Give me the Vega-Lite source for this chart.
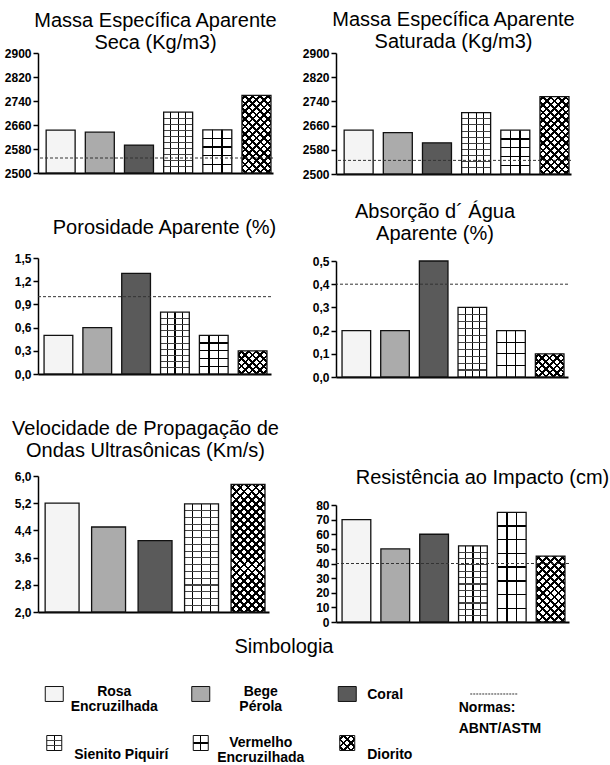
{
"$schema": "https://vega.github.io/schema/vega-lite/v6.json",
"padding": {"left": 4, "top": 10, "right": 0, "bottom": 0},
"config": {
 "view": {"stroke": null},
 "font": "Liberation Sans",
 "title": {"font": "Liberation Sans", "fontSize": 20, "fontWeight": "normal", "color": "#000", "lineHeight": 22, "frame": "group", "anchor": "middle"},
 "axis": {"labelFont": "Liberation Sans", "labelFontSize": 12, "labelFontWeight": "bold", "labelColor": "#000", "domainColor": "#000", "tickColor": "#000", "grid": false},
 "axisY": {"domainWidth": 1.5, "tickWidth": 1.5, "tickSize": 5, "labelPadding": 2},
 "axisX": {"labels": false, "ticks": false, "domainWidth": 2},
 "text": {"font": "Liberation Sans", "fontWeight": "bold", "fontSize": 14, "color": "#000"}
},
"datasets": {
 "seca": [{"rocha":"Rosa Encruzilhada","valor":2643},{"rocha":"Bege Pérola","valor":2636},{"rocha":"Coral","valor":2593},{"rocha":"Sienito Piquirí","valor":2703},{"rocha":"Vermelho Encruzilhada","valor":2644},{"rocha":"Diorito","valor":2759}],
 "saturada": [{"rocha":"Rosa Encruzilhada","valor":2645},{"rocha":"Bege Pérola","valor":2637},{"rocha":"Coral","valor":2603},{"rocha":"Sienito Piquirí","valor":2703},{"rocha":"Vermelho Encruzilhada","valor":2645},{"rocha":"Diorito","valor":2756}],
 "porosidade": [{"rocha":"Rosa Encruzilhada","valor":0.5},{"rocha":"Bege Pérola","valor":0.6},{"rocha":"Coral","valor":1.3},{"rocha":"Sienito Piquirí","valor":0.8},{"rocha":"Vermelho Encruzilhada","valor":0.5},{"rocha":"Diorito","valor":0.3}],
 "absorcao": [{"rocha":"Rosa Encruzilhada","valor":0.2},{"rocha":"Bege Pérola","valor":0.2},{"rocha":"Coral","valor":0.5},{"rocha":"Sienito Piquirí","valor":0.3},{"rocha":"Vermelho Encruzilhada","valor":0.2},{"rocha":"Diorito","valor":0.1}],
 "velocidade": [{"rocha":"Rosa Encruzilhada","valor":5.2},{"rocha":"Bege Pérola","valor":4.5},{"rocha":"Coral","valor":4.1},{"rocha":"Sienito Piquirí","valor":5.18},{"rocha":"Diorito","valor":5.75}],
 "resistencia": [{"rocha":"Rosa Encruzilhada","valor":70},{"rocha":"Bege Pérola","valor":50},{"rocha":"Coral","valor":60},{"rocha":"Sienito Piquirí","valor":52},{"rocha":"Vermelho Encruzilhada","valor":75},{"rocha":"Diorito","valor":45}],
 "legenda": [{"item":"Rosa Encruzilhada","coluna":0,"linha":0},{"item":"Bege Pérola","coluna":1,"linha":0},{"item":"Coral","coluna":2,"linha":0},{"item":"Normas: ABNT/ASTM","coluna":3,"linha":0},{"item":"Sienito Piquirí","coluna":0,"linha":1},{"item":"Vermelho Encruzilhada","coluna":1,"linha":1},{"item":"Diorito","coluna":2,"linha":1}]
},
"vconcat": [
 {"hconcat": [
  {"vconcat": [
   {"vconcat": [
   {"width": 235, "height": 120,
    "title": {"text": ["Massa Específica Aparente", "Seca (Kg/m3)"], "offset": -6},
    "data": {"name": "seca"},
    "layer": [
     {"encoding": {
       "x": {"field": "rocha", "type": "nominal", "sort": null, "scale": {"domain": ["Rosa Encruzilhada","Bege Pérola","Coral","Sienito Piquirí","Vermelho Encruzilhada","Diorito"], "paddingInner": 0.26, "paddingOuter": 0.13, "align": 0.8}, "axis": {"title": null}},
       "y": {"field": "valor", "type": "quantitative", "scale": {"domain": [2500, 2900], "nice": false, "zero": false}, "axis": {"title": null, "values": [2500, 2580, 2660, 2740, 2820, 2900], "format": "d"}},
       "y2": {"datum": 2500}},
      "layer": [
       {"mark": {"type": "bar"}, "encoding": {"fill": {"field": "rocha", "type": "nominal", "legend": null, "scale": {"domain": ["Rosa Encruzilhada","Bege Pérola","Coral","Sienito Piquirí","Vermelho Encruzilhada","Diorito"], "range": ["#f4f4f4","#ababab","#5a5a5a","#ffffff","#ffffff","#ffffff"]}}}},
       {"transform": [{"filter": "datum.rocha === 'Sienito Piquirí'"}], "mark": {"type": "bar", "fill": {"gradient": "linear", "x1": 0, "y1": 0, "x2": 1, "y2": 0, "stops": [{"offset":0.23,"color":"#0000"},{"offset":0.23,"color":"#000"},{"offset":0.27,"color":"#000"},{"offset":0.27,"color":"#0000"},{"offset":0.48,"color":"#0000"},{"offset":0.48,"color":"#000"},{"offset":0.52,"color":"#000"},{"offset":0.52,"color":"#0000"},{"offset":0.73,"color":"#0000"},{"offset":0.73,"color":"#000"},{"offset":0.77,"color":"#000"},{"offset":0.77,"color":"#0000"}]}}},
       {"transform": [{"filter": "datum.rocha === 'Sienito Piquirí'"}], "mark": {"type": "bar", "fill": {"gradient": "linear", "x1": 0, "y1": 0, "x2": 0, "y2": 1, "stops": [{"offset":0.092,"color":"#0000"},{"offset":0.092,"color":"#444"},{"offset":0.108,"color":"#444"},{"offset":0.108,"color":"#0000"},{"offset":0.192,"color":"#0000"},{"offset":0.192,"color":"#444"},{"offset":0.208,"color":"#444"},{"offset":0.208,"color":"#0000"},{"offset":0.292,"color":"#0000"},{"offset":0.292,"color":"#444"},{"offset":0.308,"color":"#444"},{"offset":0.308,"color":"#0000"},{"offset":0.392,"color":"#0000"},{"offset":0.392,"color":"#444"},{"offset":0.408,"color":"#444"},{"offset":0.408,"color":"#0000"},{"offset":0.492,"color":"#0000"},{"offset":0.492,"color":"#444"},{"offset":0.508,"color":"#444"},{"offset":0.508,"color":"#0000"},{"offset":0.592,"color":"#0000"},{"offset":0.592,"color":"#444"},{"offset":0.608,"color":"#444"},{"offset":0.608,"color":"#0000"},{"offset":0.692,"color":"#0000"},{"offset":0.692,"color":"#444"},{"offset":0.708,"color":"#444"},{"offset":0.708,"color":"#0000"},{"offset":0.792,"color":"#0000"},{"offset":0.792,"color":"#444"},{"offset":0.808,"color":"#444"},{"offset":0.808,"color":"#0000"},{"offset":0.892,"color":"#0000"},{"offset":0.892,"color":"#444"},{"offset":0.908,"color":"#444"},{"offset":0.908,"color":"#0000"}]}}},
       {"transform": [{"filter": "datum.rocha === 'Vermelho Encruzilhada'"}], "mark": {"type": "bar", "fill": {"gradient": "linear", "x1": 0, "y1": 0, "x2": 1, "y2": 0, "stops": [{"offset":0.309,"color":"#0000"},{"offset":0.309,"color":"#000"},{"offset":0.357,"color":"#000"},{"offset":0.357,"color":"#0000"},{"offset":0.643,"color":"#0000"},{"offset":0.643,"color":"#000"},{"offset":0.691,"color":"#000"},{"offset":0.691,"color":"#0000"}]}}},
       {"transform": [{"filter": "datum.rocha === 'Vermelho Encruzilhada'"}], "mark": {"type": "bar", "fill": {"gradient": "linear", "x1": 0, "y1": 0, "x2": 0, "y2": 1, "stops": [{"offset":0.184,"color":"#0000"},{"offset":0.184,"color":"#000"},{"offset":0.216,"color":"#000"},{"offset":0.216,"color":"#0000"},{"offset":0.384,"color":"#0000"},{"offset":0.384,"color":"#000"},{"offset":0.416,"color":"#000"},{"offset":0.416,"color":"#0000"},{"offset":0.584,"color":"#0000"},{"offset":0.584,"color":"#000"},{"offset":0.616,"color":"#000"},{"offset":0.616,"color":"#0000"},{"offset":0.784,"color":"#0000"},{"offset":0.784,"color":"#000"},{"offset":0.816,"color":"#000"},{"offset":0.816,"color":"#0000"}]}}},
       {"transform": [{"filter": "datum.rocha === 'Diorito'"}], "mark": {"type": "bar", "fill": {"gradient": "linear", "x1": 0, "y1": 0, "x2": 0.45, "y2": 1.205, "stops": [{"offset":0.023,"color":"#0000"},{"offset":0.023,"color":"#000"},{"offset":0.048,"color":"#000"},{"offset":0.048,"color":"#0000"},{"offset":0.095,"color":"#0000"},{"offset":0.095,"color":"#000"},{"offset":0.12,"color":"#000"},{"offset":0.12,"color":"#0000"},{"offset":0.166,"color":"#0000"},{"offset":0.166,"color":"#000"},{"offset":0.191,"color":"#000"},{"offset":0.191,"color":"#0000"},{"offset":0.238,"color":"#0000"},{"offset":0.238,"color":"#000"},{"offset":0.263,"color":"#000"},{"offset":0.263,"color":"#0000"},{"offset":0.309,"color":"#0000"},{"offset":0.309,"color":"#000"},{"offset":0.334,"color":"#000"},{"offset":0.334,"color":"#0000"},{"offset":0.38,"color":"#0000"},{"offset":0.38,"color":"#000"},{"offset":0.405,"color":"#000"},{"offset":0.405,"color":"#0000"},{"offset":0.452,"color":"#0000"},{"offset":0.452,"color":"#000"},{"offset":0.477,"color":"#000"},{"offset":0.477,"color":"#0000"},{"offset":0.523,"color":"#0000"},{"offset":0.523,"color":"#000"},{"offset":0.548,"color":"#000"},{"offset":0.548,"color":"#0000"},{"offset":0.595,"color":"#0000"},{"offset":0.595,"color":"#000"},{"offset":0.62,"color":"#000"},{"offset":0.62,"color":"#0000"},{"offset":0.666,"color":"#0000"},{"offset":0.666,"color":"#000"},{"offset":0.691,"color":"#000"},{"offset":0.691,"color":"#0000"},{"offset":0.738,"color":"#0000"},{"offset":0.738,"color":"#000"},{"offset":0.763,"color":"#000"},{"offset":0.763,"color":"#0000"},{"offset":0.809,"color":"#0000"},{"offset":0.809,"color":"#000"},{"offset":0.834,"color":"#000"},{"offset":0.834,"color":"#0000"},{"offset":0.88,"color":"#0000"},{"offset":0.88,"color":"#000"},{"offset":0.905,"color":"#000"},{"offset":0.905,"color":"#0000"},{"offset":0.952,"color":"#0000"},{"offset":0.952,"color":"#000"},{"offset":0.977,"color":"#000"},{"offset":0.977,"color":"#0000"}]}}},
       {"transform": [{"filter": "datum.rocha === 'Diorito'"}], "mark": {"type": "bar", "fill": {"gradient": "linear", "x1": 0, "y1": 1, "x2": 0.45, "y2": -0.205, "stops": [{"offset":0.023,"color":"#0000"},{"offset":0.023,"color":"#000"},{"offset":0.048,"color":"#000"},{"offset":0.048,"color":"#0000"},{"offset":0.095,"color":"#0000"},{"offset":0.095,"color":"#000"},{"offset":0.12,"color":"#000"},{"offset":0.12,"color":"#0000"},{"offset":0.166,"color":"#0000"},{"offset":0.166,"color":"#000"},{"offset":0.191,"color":"#000"},{"offset":0.191,"color":"#0000"},{"offset":0.238,"color":"#0000"},{"offset":0.238,"color":"#000"},{"offset":0.263,"color":"#000"},{"offset":0.263,"color":"#0000"},{"offset":0.309,"color":"#0000"},{"offset":0.309,"color":"#000"},{"offset":0.334,"color":"#000"},{"offset":0.334,"color":"#0000"},{"offset":0.38,"color":"#0000"},{"offset":0.38,"color":"#000"},{"offset":0.405,"color":"#000"},{"offset":0.405,"color":"#0000"},{"offset":0.452,"color":"#0000"},{"offset":0.452,"color":"#000"},{"offset":0.477,"color":"#000"},{"offset":0.477,"color":"#0000"},{"offset":0.523,"color":"#0000"},{"offset":0.523,"color":"#000"},{"offset":0.548,"color":"#000"},{"offset":0.548,"color":"#0000"},{"offset":0.595,"color":"#0000"},{"offset":0.595,"color":"#000"},{"offset":0.62,"color":"#000"},{"offset":0.62,"color":"#0000"},{"offset":0.666,"color":"#0000"},{"offset":0.666,"color":"#000"},{"offset":0.691,"color":"#000"},{"offset":0.691,"color":"#0000"},{"offset":0.738,"color":"#0000"},{"offset":0.738,"color":"#000"},{"offset":0.763,"color":"#000"},{"offset":0.763,"color":"#0000"},{"offset":0.809,"color":"#0000"},{"offset":0.809,"color":"#000"},{"offset":0.834,"color":"#000"},{"offset":0.834,"color":"#0000"},{"offset":0.88,"color":"#0000"},{"offset":0.88,"color":"#000"},{"offset":0.905,"color":"#000"},{"offset":0.905,"color":"#0000"},{"offset":0.952,"color":"#0000"},{"offset":0.952,"color":"#000"},{"offset":0.977,"color":"#000"},{"offset":0.977,"color":"#0000"}]}}},
       {"mark": {"type": "bar", "fill": "transparent", "stroke": "#111", "strokeWidth": 1.3}}
      ]},
     {"data": {"values": [{"norma": 2550}]}, "mark": {"type": "rule", "stroke": "#333", "strokeDash": [3, 2], "strokeWidth": 1}, "encoding": {"y": {"field": "norma", "type": "quantitative", "scale": {"domain": [2500, 2900], "nice": false, "zero": false}, "axis": {"title": null, "values": [2500, 2580, 2660, 2740, 2820, 2900], "format": "d"}}}}
    ]},
   {"width": 233, "height": 116,
    "title": {"text": "Porosidade Aparente (%)", "offset": 14, "dx": 10},
    "data": {"name": "porosidade"},
    "layer": [
     {"encoding": {
       "x": {"field": "rocha", "type": "nominal", "sort": null, "scale": {"domain": ["Rosa Encruzilhada","Bege Pérola","Coral","Sienito Piquirí","Vermelho Encruzilhada","Diorito"], "paddingInner": 0.26, "paddingOuter": 0.13, "align": 0.6}, "axis": {"title": null}},
       "y": {"field": "valor", "type": "quantitative", "scale": {"domain": [0, 1.5], "nice": false}, "axis": {"title": null, "values": [0, 0.3, 0.6, 0.9, 1.2, 1.5], "labelExpr": "replace(format(datum.value, '.1f'), '.', ',')"}},
       "y2": {"datum": 0}},
      "layer": [
       {"mark": {"type": "bar"}, "encoding": {"fill": {"field": "rocha", "type": "nominal", "legend": null, "scale": {"domain": ["Rosa Encruzilhada","Bege Pérola","Coral","Sienito Piquirí","Vermelho Encruzilhada","Diorito"], "range": ["#f4f4f4","#ababab","#5a5a5a","#ffffff","#ffffff","#ffffff"]}}}},
       {"transform": [{"filter": "datum.rocha === 'Sienito Piquirí'"}], "mark": {"type": "bar", "fill": {"gradient": "linear", "x1": 0, "y1": 0, "x2": 1, "y2": 0, "stops": [{"offset":0.23,"color":"#0000"},{"offset":0.23,"color":"#000"},{"offset":0.27,"color":"#000"},{"offset":0.27,"color":"#0000"},{"offset":0.48,"color":"#0000"},{"offset":0.48,"color":"#000"},{"offset":0.52,"color":"#000"},{"offset":0.52,"color":"#0000"},{"offset":0.73,"color":"#0000"},{"offset":0.73,"color":"#000"},{"offset":0.77,"color":"#000"},{"offset":0.77,"color":"#0000"}]}}},
       {"transform": [{"filter": "datum.rocha === 'Sienito Piquirí'"}], "mark": {"type": "bar", "fill": {"gradient": "linear", "x1": 0, "y1": 0, "x2": 0, "y2": 1, "stops": [{"offset":0.092,"color":"#0000"},{"offset":0.092,"color":"#444"},{"offset":0.108,"color":"#444"},{"offset":0.108,"color":"#0000"},{"offset":0.192,"color":"#0000"},{"offset":0.192,"color":"#444"},{"offset":0.208,"color":"#444"},{"offset":0.208,"color":"#0000"},{"offset":0.292,"color":"#0000"},{"offset":0.292,"color":"#444"},{"offset":0.308,"color":"#444"},{"offset":0.308,"color":"#0000"},{"offset":0.392,"color":"#0000"},{"offset":0.392,"color":"#444"},{"offset":0.408,"color":"#444"},{"offset":0.408,"color":"#0000"},{"offset":0.492,"color":"#0000"},{"offset":0.492,"color":"#444"},{"offset":0.508,"color":"#444"},{"offset":0.508,"color":"#0000"},{"offset":0.592,"color":"#0000"},{"offset":0.592,"color":"#444"},{"offset":0.608,"color":"#444"},{"offset":0.608,"color":"#0000"},{"offset":0.692,"color":"#0000"},{"offset":0.692,"color":"#444"},{"offset":0.708,"color":"#444"},{"offset":0.708,"color":"#0000"},{"offset":0.792,"color":"#0000"},{"offset":0.792,"color":"#444"},{"offset":0.808,"color":"#444"},{"offset":0.808,"color":"#0000"},{"offset":0.892,"color":"#0000"},{"offset":0.892,"color":"#444"},{"offset":0.908,"color":"#444"},{"offset":0.908,"color":"#0000"}]}}},
       {"transform": [{"filter": "datum.rocha === 'Vermelho Encruzilhada'"}], "mark": {"type": "bar", "fill": {"gradient": "linear", "x1": 0, "y1": 0, "x2": 1, "y2": 0, "stops": [{"offset":0.309,"color":"#0000"},{"offset":0.309,"color":"#000"},{"offset":0.357,"color":"#000"},{"offset":0.357,"color":"#0000"},{"offset":0.643,"color":"#0000"},{"offset":0.643,"color":"#000"},{"offset":0.691,"color":"#000"},{"offset":0.691,"color":"#0000"}]}}},
       {"transform": [{"filter": "datum.rocha === 'Vermelho Encruzilhada'"}], "mark": {"type": "bar", "fill": {"gradient": "linear", "x1": 0, "y1": 0, "x2": 0, "y2": 1, "stops": [{"offset":0.182,"color":"#0000"},{"offset":0.182,"color":"#000"},{"offset":0.218,"color":"#000"},{"offset":0.218,"color":"#0000"},{"offset":0.382,"color":"#0000"},{"offset":0.382,"color":"#000"},{"offset":0.418,"color":"#000"},{"offset":0.418,"color":"#0000"},{"offset":0.582,"color":"#0000"},{"offset":0.582,"color":"#000"},{"offset":0.618,"color":"#000"},{"offset":0.618,"color":"#0000"},{"offset":0.782,"color":"#0000"},{"offset":0.782,"color":"#000"},{"offset":0.818,"color":"#000"},{"offset":0.818,"color":"#0000"}]}}},
       {"transform": [{"filter": "datum.rocha === 'Diorito'"}], "mark": {"type": "bar", "fill": {"gradient": "linear", "x1": 0, "y1": 0, "x2": 1.093, "y2": 0.885, "stops": [{"offset":0.046,"color":"#0000"},{"offset":0.046,"color":"#000"},{"offset":0.096,"color":"#000"},{"offset":0.096,"color":"#0000"},{"offset":0.189,"color":"#0000"},{"offset":0.189,"color":"#000"},{"offset":0.239,"color":"#000"},{"offset":0.239,"color":"#0000"},{"offset":0.332,"color":"#0000"},{"offset":0.332,"color":"#000"},{"offset":0.382,"color":"#000"},{"offset":0.382,"color":"#0000"},{"offset":0.475,"color":"#0000"},{"offset":0.475,"color":"#000"},{"offset":0.525,"color":"#000"},{"offset":0.525,"color":"#0000"},{"offset":0.618,"color":"#0000"},{"offset":0.618,"color":"#000"},{"offset":0.668,"color":"#000"},{"offset":0.668,"color":"#0000"},{"offset":0.761,"color":"#0000"},{"offset":0.761,"color":"#000"},{"offset":0.811,"color":"#000"},{"offset":0.811,"color":"#0000"},{"offset":0.904,"color":"#0000"},{"offset":0.904,"color":"#000"},{"offset":0.954,"color":"#000"},{"offset":0.954,"color":"#0000"}]}}},
       {"transform": [{"filter": "datum.rocha === 'Diorito'"}], "mark": {"type": "bar", "fill": {"gradient": "linear", "x1": 0, "y1": 1, "x2": 1.093, "y2": 0.115, "stops": [{"offset":0.046,"color":"#0000"},{"offset":0.046,"color":"#000"},{"offset":0.096,"color":"#000"},{"offset":0.096,"color":"#0000"},{"offset":0.189,"color":"#0000"},{"offset":0.189,"color":"#000"},{"offset":0.239,"color":"#000"},{"offset":0.239,"color":"#0000"},{"offset":0.332,"color":"#0000"},{"offset":0.332,"color":"#000"},{"offset":0.382,"color":"#000"},{"offset":0.382,"color":"#0000"},{"offset":0.475,"color":"#0000"},{"offset":0.475,"color":"#000"},{"offset":0.525,"color":"#000"},{"offset":0.525,"color":"#0000"},{"offset":0.618,"color":"#0000"},{"offset":0.618,"color":"#000"},{"offset":0.668,"color":"#000"},{"offset":0.668,"color":"#0000"},{"offset":0.761,"color":"#0000"},{"offset":0.761,"color":"#000"},{"offset":0.811,"color":"#000"},{"offset":0.811,"color":"#0000"},{"offset":0.904,"color":"#0000"},{"offset":0.904,"color":"#000"},{"offset":0.954,"color":"#000"},{"offset":0.954,"color":"#0000"}]}}},
       {"mark": {"type": "bar", "fill": "transparent", "stroke": "#111", "strokeWidth": 1.3}}
      ]},
     {"data": {"values": [{"norma": 1.0}]}, "mark": {"type": "rule", "stroke": "#333", "strokeDash": [3, 2], "strokeWidth": 1}, "encoding": {"y": {"field": "norma", "type": "quantitative", "scale": {"domain": [0, 1.5], "nice": false}, "axis": {"title": null, "values": [0, 0.3, 0.6, 0.9, 1.2, 1.5], "labelExpr": "replace(format(datum.value, '.1f'), '.', ',')"}}}}
    ]}
   ], "spacing": 39},
   {"width": 231, "height": 136,
    "title": {"text": ["Velocidade de Propagação de", "Ondas Ultrasônicas (Km/s)"], "offset": 9, "dx": -8},
    "data": {"name": "velocidade"},
    "layer": [
     {"encoding": {
       "x": {"field": "rocha", "type": "nominal", "sort": null, "scale": {"domain": ["Rosa Encruzilhada","Bege Pérola","Coral","Sienito Piquirí","Diorito"], "paddingInner": 0.27, "paddingOuter": 0.12, "align": 0.64}, "axis": {"title": null}},
       "y": {"field": "valor", "type": "quantitative", "scale": {"domain": [2, 6], "nice": false, "zero": false}, "axis": {"title": null, "values": [2, 2.8, 3.6, 4.4, 5.2, 6], "labelExpr": "replace(format(datum.value, '.1f'), '.', ',')"}},
       "y2": {"datum": 2}},
      "layer": [
       {"mark": {"type": "bar"}, "encoding": {"fill": {"field": "rocha", "type": "nominal", "legend": null, "scale": {"domain": ["Rosa Encruzilhada","Bege Pérola","Coral","Sienito Piquirí","Vermelho Encruzilhada","Diorito"], "range": ["#f4f4f4","#ababab","#5a5a5a","#ffffff","#ffffff","#ffffff"]}}}},
       {"transform": [{"filter": "datum.rocha === 'Sienito Piquirí'"}], "mark": {"type": "bar", "fill": {"gradient": "linear", "x1": 0, "y1": 0, "x2": 1, "y2": 0, "stops": [{"offset":0.23,"color":"#0000"},{"offset":0.23,"color":"#000"},{"offset":0.26,"color":"#000"},{"offset":0.26,"color":"#0000"},{"offset":0.485,"color":"#0000"},{"offset":0.485,"color":"#000"},{"offset":0.515,"color":"#000"},{"offset":0.515,"color":"#0000"},{"offset":0.74,"color":"#0000"},{"offset":0.74,"color":"#000"},{"offset":0.77,"color":"#000"},{"offset":0.77,"color":"#0000"}]}}},
       {"transform": [{"filter": "datum.rocha === 'Sienito Piquirí'"}], "mark": {"type": "bar", "fill": {"gradient": "linear", "x1": 0, "y1": 0, "x2": 0, "y2": 1, "stops": [{"offset":0.058,"color":"#0000"},{"offset":0.058,"color":"#444"},{"offset":0.067,"color":"#444"},{"offset":0.067,"color":"#0000"},{"offset":0.12,"color":"#0000"},{"offset":0.12,"color":"#444"},{"offset":0.13,"color":"#444"},{"offset":0.13,"color":"#0000"},{"offset":0.183,"color":"#0000"},{"offset":0.183,"color":"#444"},{"offset":0.192,"color":"#444"},{"offset":0.192,"color":"#0000"},{"offset":0.245,"color":"#0000"},{"offset":0.245,"color":"#444"},{"offset":0.255,"color":"#444"},{"offset":0.255,"color":"#0000"},{"offset":0.308,"color":"#0000"},{"offset":0.308,"color":"#444"},{"offset":0.317,"color":"#444"},{"offset":0.317,"color":"#0000"},{"offset":0.37,"color":"#0000"},{"offset":0.37,"color":"#444"},{"offset":0.38,"color":"#444"},{"offset":0.38,"color":"#0000"},{"offset":0.433,"color":"#0000"},{"offset":0.433,"color":"#444"},{"offset":0.442,"color":"#444"},{"offset":0.442,"color":"#0000"},{"offset":0.495,"color":"#0000"},{"offset":0.495,"color":"#444"},{"offset":0.505,"color":"#444"},{"offset":0.505,"color":"#0000"},{"offset":0.558,"color":"#0000"},{"offset":0.558,"color":"#444"},{"offset":0.567,"color":"#444"},{"offset":0.567,"color":"#0000"},{"offset":0.62,"color":"#0000"},{"offset":0.62,"color":"#444"},{"offset":0.63,"color":"#444"},{"offset":0.63,"color":"#0000"},{"offset":0.683,"color":"#0000"},{"offset":0.683,"color":"#444"},{"offset":0.692,"color":"#444"},{"offset":0.692,"color":"#0000"},{"offset":0.745,"color":"#0000"},{"offset":0.745,"color":"#444"},{"offset":0.755,"color":"#444"},{"offset":0.755,"color":"#0000"},{"offset":0.808,"color":"#0000"},{"offset":0.808,"color":"#444"},{"offset":0.817,"color":"#444"},{"offset":0.817,"color":"#0000"},{"offset":0.87,"color":"#0000"},{"offset":0.87,"color":"#444"},{"offset":0.88,"color":"#444"},{"offset":0.88,"color":"#0000"},{"offset":0.933,"color":"#0000"},{"offset":0.933,"color":"#444"},{"offset":0.942,"color":"#444"},{"offset":0.942,"color":"#0000"}]}}},
       {"transform": [{"filter": "datum.rocha === 'Diorito'"}], "mark": {"type": "bar", "fill": {"gradient": "linear", "x1": 0, "y1": 0, "x2": 0.321, "y2": 1.184, "stops": [{"offset":0.016,"color":"#0000"},{"offset":0.016,"color":"#000"},{"offset":0.034,"color":"#000"},{"offset":0.034,"color":"#0000"},{"offset":0.066,"color":"#0000"},{"offset":0.066,"color":"#000"},{"offset":0.084,"color":"#000"},{"offset":0.084,"color":"#0000"},{"offset":0.116,"color":"#0000"},{"offset":0.116,"color":"#000"},{"offset":0.134,"color":"#000"},{"offset":0.134,"color":"#0000"},{"offset":0.166,"color":"#0000"},{"offset":0.166,"color":"#000"},{"offset":0.184,"color":"#000"},{"offset":0.184,"color":"#0000"},{"offset":0.216,"color":"#0000"},{"offset":0.216,"color":"#000"},{"offset":0.234,"color":"#000"},{"offset":0.234,"color":"#0000"},{"offset":0.266,"color":"#0000"},{"offset":0.266,"color":"#000"},{"offset":0.284,"color":"#000"},{"offset":0.284,"color":"#0000"},{"offset":0.316,"color":"#0000"},{"offset":0.316,"color":"#000"},{"offset":0.334,"color":"#000"},{"offset":0.334,"color":"#0000"},{"offset":0.366,"color":"#0000"},{"offset":0.366,"color":"#000"},{"offset":0.384,"color":"#000"},{"offset":0.384,"color":"#0000"},{"offset":0.416,"color":"#0000"},{"offset":0.416,"color":"#000"},{"offset":0.434,"color":"#000"},{"offset":0.434,"color":"#0000"},{"offset":0.466,"color":"#0000"},{"offset":0.466,"color":"#000"},{"offset":0.484,"color":"#000"},{"offset":0.484,"color":"#0000"},{"offset":0.516,"color":"#0000"},{"offset":0.516,"color":"#000"},{"offset":0.534,"color":"#000"},{"offset":0.534,"color":"#0000"},{"offset":0.566,"color":"#0000"},{"offset":0.566,"color":"#000"},{"offset":0.584,"color":"#000"},{"offset":0.584,"color":"#0000"},{"offset":0.616,"color":"#0000"},{"offset":0.616,"color":"#000"},{"offset":0.634,"color":"#000"},{"offset":0.634,"color":"#0000"},{"offset":0.666,"color":"#0000"},{"offset":0.666,"color":"#000"},{"offset":0.684,"color":"#000"},{"offset":0.684,"color":"#0000"},{"offset":0.716,"color":"#0000"},{"offset":0.716,"color":"#000"},{"offset":0.734,"color":"#000"},{"offset":0.734,"color":"#0000"},{"offset":0.766,"color":"#0000"},{"offset":0.766,"color":"#000"},{"offset":0.784,"color":"#000"},{"offset":0.784,"color":"#0000"},{"offset":0.816,"color":"#0000"},{"offset":0.816,"color":"#000"},{"offset":0.834,"color":"#000"},{"offset":0.834,"color":"#0000"},{"offset":0.866,"color":"#0000"},{"offset":0.866,"color":"#000"},{"offset":0.884,"color":"#000"},{"offset":0.884,"color":"#0000"},{"offset":0.916,"color":"#0000"},{"offset":0.916,"color":"#000"},{"offset":0.934,"color":"#000"},{"offset":0.934,"color":"#0000"},{"offset":0.966,"color":"#0000"},{"offset":0.966,"color":"#000"},{"offset":0.984,"color":"#000"},{"offset":0.984,"color":"#0000"}]}}},
       {"transform": [{"filter": "datum.rocha === 'Diorito'"}], "mark": {"type": "bar", "fill": {"gradient": "linear", "x1": 0, "y1": 1, "x2": 0.321, "y2": -0.184, "stops": [{"offset":0.016,"color":"#0000"},{"offset":0.016,"color":"#000"},{"offset":0.034,"color":"#000"},{"offset":0.034,"color":"#0000"},{"offset":0.066,"color":"#0000"},{"offset":0.066,"color":"#000"},{"offset":0.084,"color":"#000"},{"offset":0.084,"color":"#0000"},{"offset":0.116,"color":"#0000"},{"offset":0.116,"color":"#000"},{"offset":0.134,"color":"#000"},{"offset":0.134,"color":"#0000"},{"offset":0.166,"color":"#0000"},{"offset":0.166,"color":"#000"},{"offset":0.184,"color":"#000"},{"offset":0.184,"color":"#0000"},{"offset":0.216,"color":"#0000"},{"offset":0.216,"color":"#000"},{"offset":0.234,"color":"#000"},{"offset":0.234,"color":"#0000"},{"offset":0.266,"color":"#0000"},{"offset":0.266,"color":"#000"},{"offset":0.284,"color":"#000"},{"offset":0.284,"color":"#0000"},{"offset":0.316,"color":"#0000"},{"offset":0.316,"color":"#000"},{"offset":0.334,"color":"#000"},{"offset":0.334,"color":"#0000"},{"offset":0.366,"color":"#0000"},{"offset":0.366,"color":"#000"},{"offset":0.384,"color":"#000"},{"offset":0.384,"color":"#0000"},{"offset":0.416,"color":"#0000"},{"offset":0.416,"color":"#000"},{"offset":0.434,"color":"#000"},{"offset":0.434,"color":"#0000"},{"offset":0.466,"color":"#0000"},{"offset":0.466,"color":"#000"},{"offset":0.484,"color":"#000"},{"offset":0.484,"color":"#0000"},{"offset":0.516,"color":"#0000"},{"offset":0.516,"color":"#000"},{"offset":0.534,"color":"#000"},{"offset":0.534,"color":"#0000"},{"offset":0.566,"color":"#0000"},{"offset":0.566,"color":"#000"},{"offset":0.584,"color":"#000"},{"offset":0.584,"color":"#0000"},{"offset":0.616,"color":"#0000"},{"offset":0.616,"color":"#000"},{"offset":0.634,"color":"#000"},{"offset":0.634,"color":"#0000"},{"offset":0.666,"color":"#0000"},{"offset":0.666,"color":"#000"},{"offset":0.684,"color":"#000"},{"offset":0.684,"color":"#0000"},{"offset":0.716,"color":"#0000"},{"offset":0.716,"color":"#000"},{"offset":0.734,"color":"#000"},{"offset":0.734,"color":"#0000"},{"offset":0.766,"color":"#0000"},{"offset":0.766,"color":"#000"},{"offset":0.784,"color":"#000"},{"offset":0.784,"color":"#0000"},{"offset":0.816,"color":"#0000"},{"offset":0.816,"color":"#000"},{"offset":0.834,"color":"#000"},{"offset":0.834,"color":"#0000"},{"offset":0.866,"color":"#0000"},{"offset":0.866,"color":"#000"},{"offset":0.884,"color":"#000"},{"offset":0.884,"color":"#0000"},{"offset":0.916,"color":"#0000"},{"offset":0.916,"color":"#000"},{"offset":0.934,"color":"#000"},{"offset":0.934,"color":"#0000"},{"offset":0.966,"color":"#0000"},{"offset":0.966,"color":"#000"},{"offset":0.984,"color":"#000"},{"offset":0.984,"color":"#0000"}]}}},
       {"mark": {"type": "bar", "fill": "transparent", "stroke": "#111", "strokeWidth": 1.3}}
      ]}
    ]}
  ], "spacing": 39},
  {"vconcat": [
   {"vconcat": [
    {"width": 235, "height": 121,
     "title": {"text": ["Massa Específica Aparente", "Saturada (Kg/m3)"], "offset": -5},
     "data": {"name": "saturada"},
     "layer": [
      {"encoding": {
        "x": {"field": "rocha", "type": "nominal", "sort": null, "scale": {"domain": ["Rosa Encruzilhada","Bege Pérola","Coral","Sienito Piquirí","Vermelho Encruzilhada","Diorito"], "paddingInner": 0.26, "paddingOuter": 0.13, "align": 0.8}, "axis": {"title": null}},
        "y": {"field": "valor", "type": "quantitative", "scale": {"domain": [2500, 2900], "nice": false, "zero": false}, "axis": {"title": null, "values": [2500, 2580, 2660, 2740, 2820, 2900], "format": "d"}},
        "y2": {"datum": 2500}},
       "layer": [
        {"mark": {"type": "bar"}, "encoding": {"fill": {"field": "rocha", "type": "nominal", "legend": null, "scale": {"domain": ["Rosa Encruzilhada","Bege Pérola","Coral","Sienito Piquirí","Vermelho Encruzilhada","Diorito"], "range": ["#f4f4f4","#ababab","#5a5a5a","#ffffff","#ffffff","#ffffff"]}}}},
        {"transform": [{"filter": "datum.rocha === 'Sienito Piquirí'"}], "mark": {"type": "bar", "fill": {"gradient": "linear", "x1": 0, "y1": 0, "x2": 1, "y2": 0, "stops": [{"offset":0.23,"color":"#0000"},{"offset":0.23,"color":"#000"},{"offset":0.27,"color":"#000"},{"offset":0.27,"color":"#0000"},{"offset":0.48,"color":"#0000"},{"offset":0.48,"color":"#000"},{"offset":0.52,"color":"#000"},{"offset":0.52,"color":"#0000"},{"offset":0.73,"color":"#0000"},{"offset":0.73,"color":"#000"},{"offset":0.77,"color":"#000"},{"offset":0.77,"color":"#0000"}]}}},
        {"transform": [{"filter": "datum.rocha === 'Sienito Piquirí'"}], "mark": {"type": "bar", "fill": {"gradient": "linear", "x1": 0, "y1": 0, "x2": 0, "y2": 1, "stops": [{"offset":0.092,"color":"#0000"},{"offset":0.092,"color":"#444"},{"offset":0.108,"color":"#444"},{"offset":0.108,"color":"#0000"},{"offset":0.192,"color":"#0000"},{"offset":0.192,"color":"#444"},{"offset":0.208,"color":"#444"},{"offset":0.208,"color":"#0000"},{"offset":0.292,"color":"#0000"},{"offset":0.292,"color":"#444"},{"offset":0.308,"color":"#444"},{"offset":0.308,"color":"#0000"},{"offset":0.392,"color":"#0000"},{"offset":0.392,"color":"#444"},{"offset":0.408,"color":"#444"},{"offset":0.408,"color":"#0000"},{"offset":0.492,"color":"#0000"},{"offset":0.492,"color":"#444"},{"offset":0.508,"color":"#444"},{"offset":0.508,"color":"#0000"},{"offset":0.592,"color":"#0000"},{"offset":0.592,"color":"#444"},{"offset":0.608,"color":"#444"},{"offset":0.608,"color":"#0000"},{"offset":0.692,"color":"#0000"},{"offset":0.692,"color":"#444"},{"offset":0.708,"color":"#444"},{"offset":0.708,"color":"#0000"},{"offset":0.792,"color":"#0000"},{"offset":0.792,"color":"#444"},{"offset":0.808,"color":"#444"},{"offset":0.808,"color":"#0000"},{"offset":0.892,"color":"#0000"},{"offset":0.892,"color":"#444"},{"offset":0.908,"color":"#444"},{"offset":0.908,"color":"#0000"}]}}},
        {"transform": [{"filter": "datum.rocha === 'Vermelho Encruzilhada'"}], "mark": {"type": "bar", "fill": {"gradient": "linear", "x1": 0, "y1": 0, "x2": 1, "y2": 0, "stops": [{"offset":0.309,"color":"#0000"},{"offset":0.309,"color":"#000"},{"offset":0.357,"color":"#000"},{"offset":0.357,"color":"#0000"},{"offset":0.643,"color":"#0000"},{"offset":0.643,"color":"#000"},{"offset":0.691,"color":"#000"},{"offset":0.691,"color":"#0000"}]}}},
        {"transform": [{"filter": "datum.rocha === 'Vermelho Encruzilhada'"}], "mark": {"type": "bar", "fill": {"gradient": "linear", "x1": 0, "y1": 0, "x2": 0, "y2": 1, "stops": [{"offset":0.184,"color":"#0000"},{"offset":0.184,"color":"#000"},{"offset":0.216,"color":"#000"},{"offset":0.216,"color":"#0000"},{"offset":0.384,"color":"#0000"},{"offset":0.384,"color":"#000"},{"offset":0.416,"color":"#000"},{"offset":0.416,"color":"#0000"},{"offset":0.584,"color":"#0000"},{"offset":0.584,"color":"#000"},{"offset":0.616,"color":"#000"},{"offset":0.616,"color":"#0000"},{"offset":0.784,"color":"#0000"},{"offset":0.784,"color":"#000"},{"offset":0.816,"color":"#000"},{"offset":0.816,"color":"#0000"}]}}},
        {"transform": [{"filter": "datum.rocha === 'Diorito'"}], "mark": {"type": "bar", "fill": {"gradient": "linear", "x1": 0, "y1": 0, "x2": 0.45, "y2": 1.205, "stops": [{"offset":0.023,"color":"#0000"},{"offset":0.023,"color":"#000"},{"offset":0.048,"color":"#000"},{"offset":0.048,"color":"#0000"},{"offset":0.095,"color":"#0000"},{"offset":0.095,"color":"#000"},{"offset":0.12,"color":"#000"},{"offset":0.12,"color":"#0000"},{"offset":0.166,"color":"#0000"},{"offset":0.166,"color":"#000"},{"offset":0.191,"color":"#000"},{"offset":0.191,"color":"#0000"},{"offset":0.238,"color":"#0000"},{"offset":0.238,"color":"#000"},{"offset":0.263,"color":"#000"},{"offset":0.263,"color":"#0000"},{"offset":0.309,"color":"#0000"},{"offset":0.309,"color":"#000"},{"offset":0.334,"color":"#000"},{"offset":0.334,"color":"#0000"},{"offset":0.38,"color":"#0000"},{"offset":0.38,"color":"#000"},{"offset":0.405,"color":"#000"},{"offset":0.405,"color":"#0000"},{"offset":0.452,"color":"#0000"},{"offset":0.452,"color":"#000"},{"offset":0.477,"color":"#000"},{"offset":0.477,"color":"#0000"},{"offset":0.523,"color":"#0000"},{"offset":0.523,"color":"#000"},{"offset":0.548,"color":"#000"},{"offset":0.548,"color":"#0000"},{"offset":0.595,"color":"#0000"},{"offset":0.595,"color":"#000"},{"offset":0.62,"color":"#000"},{"offset":0.62,"color":"#0000"},{"offset":0.666,"color":"#0000"},{"offset":0.666,"color":"#000"},{"offset":0.691,"color":"#000"},{"offset":0.691,"color":"#0000"},{"offset":0.738,"color":"#0000"},{"offset":0.738,"color":"#000"},{"offset":0.763,"color":"#000"},{"offset":0.763,"color":"#0000"},{"offset":0.809,"color":"#0000"},{"offset":0.809,"color":"#000"},{"offset":0.834,"color":"#000"},{"offset":0.834,"color":"#0000"},{"offset":0.88,"color":"#0000"},{"offset":0.88,"color":"#000"},{"offset":0.905,"color":"#000"},{"offset":0.905,"color":"#0000"},{"offset":0.952,"color":"#0000"},{"offset":0.952,"color":"#000"},{"offset":0.977,"color":"#000"},{"offset":0.977,"color":"#0000"}]}}},
        {"transform": [{"filter": "datum.rocha === 'Diorito'"}], "mark": {"type": "bar", "fill": {"gradient": "linear", "x1": 0, "y1": 1, "x2": 0.45, "y2": -0.205, "stops": [{"offset":0.023,"color":"#0000"},{"offset":0.023,"color":"#000"},{"offset":0.048,"color":"#000"},{"offset":0.048,"color":"#0000"},{"offset":0.095,"color":"#0000"},{"offset":0.095,"color":"#000"},{"offset":0.12,"color":"#000"},{"offset":0.12,"color":"#0000"},{"offset":0.166,"color":"#0000"},{"offset":0.166,"color":"#000"},{"offset":0.191,"color":"#000"},{"offset":0.191,"color":"#0000"},{"offset":0.238,"color":"#0000"},{"offset":0.238,"color":"#000"},{"offset":0.263,"color":"#000"},{"offset":0.263,"color":"#0000"},{"offset":0.309,"color":"#0000"},{"offset":0.309,"color":"#000"},{"offset":0.334,"color":"#000"},{"offset":0.334,"color":"#0000"},{"offset":0.38,"color":"#0000"},{"offset":0.38,"color":"#000"},{"offset":0.405,"color":"#000"},{"offset":0.405,"color":"#0000"},{"offset":0.452,"color":"#0000"},{"offset":0.452,"color":"#000"},{"offset":0.477,"color":"#000"},{"offset":0.477,"color":"#0000"},{"offset":0.523,"color":"#0000"},{"offset":0.523,"color":"#000"},{"offset":0.548,"color":"#000"},{"offset":0.548,"color":"#0000"},{"offset":0.595,"color":"#0000"},{"offset":0.595,"color":"#000"},{"offset":0.62,"color":"#000"},{"offset":0.62,"color":"#0000"},{"offset":0.666,"color":"#0000"},{"offset":0.666,"color":"#000"},{"offset":0.691,"color":"#000"},{"offset":0.691,"color":"#0000"},{"offset":0.738,"color":"#0000"},{"offset":0.738,"color":"#000"},{"offset":0.763,"color":"#000"},{"offset":0.763,"color":"#0000"},{"offset":0.809,"color":"#0000"},{"offset":0.809,"color":"#000"},{"offset":0.834,"color":"#000"},{"offset":0.834,"color":"#0000"},{"offset":0.88,"color":"#0000"},{"offset":0.88,"color":"#000"},{"offset":0.905,"color":"#000"},{"offset":0.905,"color":"#0000"},{"offset":0.952,"color":"#0000"},{"offset":0.952,"color":"#000"},{"offset":0.977,"color":"#000"},{"offset":0.977,"color":"#0000"}]}}},
        {"mark": {"type": "bar", "fill": "transparent", "stroke": "#111", "strokeWidth": 1.3}}
       ]},
      {"data": {"values": [{"norma": 2545}]}, "mark": {"type": "rule", "stroke": "#333", "strokeDash": [3, 2], "strokeWidth": 1}, "encoding": {"y": {"field": "norma", "type": "quantitative", "scale": {"domain": [2500, 2900], "nice": false, "zero": false}, "axis": {"title": null, "values": [2500, 2580, 2660, 2740, 2820, 2900], "format": "d"}}}}
     ]},
    {"width": 232, "height": 116,
     "title": {"text": ["Absorção d´ Água", "Aparente (%)"], "offset": 11, "dx": -17},
     "data": {"name": "absorcao"},
     "layer": [
      {"encoding": {
        "x": {"field": "rocha", "type": "nominal", "sort": null, "scale": {"domain": ["Rosa Encruzilhada","Bege Pérola","Coral","Sienito Piquirí","Vermelho Encruzilhada","Diorito"], "paddingInner": 0.26, "paddingOuter": 0.13, "align": 0.6}, "axis": {"title": null}},
        "y": {"field": "valor", "type": "quantitative", "scale": {"domain": [0, 0.5], "nice": false}, "axis": {"title": null, "values": [0, 0.1, 0.2, 0.3, 0.4, 0.5], "labelExpr": "replace(format(datum.value, '.1f'), '.', ',')"}},
        "y2": {"datum": 0}},
       "layer": [
        {"mark": {"type": "bar"}, "encoding": {"fill": {"field": "rocha", "type": "nominal", "legend": null, "scale": {"domain": ["Rosa Encruzilhada","Bege Pérola","Coral","Sienito Piquirí","Vermelho Encruzilhada","Diorito"], "range": ["#f4f4f4","#ababab","#5a5a5a","#ffffff","#ffffff","#ffffff"]}}}},
        {"transform": [{"filter": "datum.rocha === 'Sienito Piquirí'"}], "mark": {"type": "bar", "fill": {"gradient": "linear", "x1": 0, "y1": 0, "x2": 1, "y2": 0, "stops": [{"offset":0.23,"color":"#0000"},{"offset":0.23,"color":"#000"},{"offset":0.27,"color":"#000"},{"offset":0.27,"color":"#0000"},{"offset":0.48,"color":"#0000"},{"offset":0.48,"color":"#000"},{"offset":0.52,"color":"#000"},{"offset":0.52,"color":"#0000"},{"offset":0.73,"color":"#0000"},{"offset":0.73,"color":"#000"},{"offset":0.77,"color":"#000"},{"offset":0.77,"color":"#0000"}]}}},
        {"transform": [{"filter": "datum.rocha === 'Sienito Piquirí'"}], "mark": {"type": "bar", "fill": {"gradient": "linear", "x1": 0, "y1": 0, "x2": 0, "y2": 1, "stops": [{"offset":0.092,"color":"#0000"},{"offset":0.092,"color":"#444"},{"offset":0.108,"color":"#444"},{"offset":0.108,"color":"#0000"},{"offset":0.192,"color":"#0000"},{"offset":0.192,"color":"#444"},{"offset":0.208,"color":"#444"},{"offset":0.208,"color":"#0000"},{"offset":0.292,"color":"#0000"},{"offset":0.292,"color":"#444"},{"offset":0.308,"color":"#444"},{"offset":0.308,"color":"#0000"},{"offset":0.392,"color":"#0000"},{"offset":0.392,"color":"#444"},{"offset":0.408,"color":"#444"},{"offset":0.408,"color":"#0000"},{"offset":0.492,"color":"#0000"},{"offset":0.492,"color":"#444"},{"offset":0.508,"color":"#444"},{"offset":0.508,"color":"#0000"},{"offset":0.592,"color":"#0000"},{"offset":0.592,"color":"#444"},{"offset":0.608,"color":"#444"},{"offset":0.608,"color":"#0000"},{"offset":0.692,"color":"#0000"},{"offset":0.692,"color":"#444"},{"offset":0.708,"color":"#444"},{"offset":0.708,"color":"#0000"},{"offset":0.792,"color":"#0000"},{"offset":0.792,"color":"#444"},{"offset":0.808,"color":"#444"},{"offset":0.808,"color":"#0000"},{"offset":0.892,"color":"#0000"},{"offset":0.892,"color":"#444"},{"offset":0.908,"color":"#444"},{"offset":0.908,"color":"#0000"}]}}},
        {"transform": [{"filter": "datum.rocha === 'Vermelho Encruzilhada'"}], "mark": {"type": "bar", "fill": {"gradient": "linear", "x1": 0, "y1": 0, "x2": 1, "y2": 0, "stops": [{"offset":0.309,"color":"#0000"},{"offset":0.309,"color":"#000"},{"offset":0.357,"color":"#000"},{"offset":0.357,"color":"#0000"},{"offset":0.643,"color":"#0000"},{"offset":0.643,"color":"#000"},{"offset":0.691,"color":"#000"},{"offset":0.691,"color":"#0000"}]}}},
        {"transform": [{"filter": "datum.rocha === 'Vermelho Encruzilhada'"}], "mark": {"type": "bar", "fill": {"gradient": "linear", "x1": 0, "y1": 0, "x2": 0, "y2": 1, "stops": [{"offset":0.235,"color":"#0000"},{"offset":0.235,"color":"#000"},{"offset":0.265,"color":"#000"},{"offset":0.265,"color":"#0000"},{"offset":0.485,"color":"#0000"},{"offset":0.485,"color":"#000"},{"offset":0.515,"color":"#000"},{"offset":0.515,"color":"#0000"},{"offset":0.735,"color":"#0000"},{"offset":0.735,"color":"#000"},{"offset":0.765,"color":"#000"},{"offset":0.765,"color":"#0000"}]}}},
        {"transform": [{"filter": "datum.rocha === 'Diorito'"}], "mark": {"type": "bar", "fill": {"gradient": "linear", "x1": 0, "y1": 0, "x2": 1.093, "y2": 0.885, "stops": [{"offset":0.046,"color":"#0000"},{"offset":0.046,"color":"#000"},{"offset":0.096,"color":"#000"},{"offset":0.096,"color":"#0000"},{"offset":0.189,"color":"#0000"},{"offset":0.189,"color":"#000"},{"offset":0.239,"color":"#000"},{"offset":0.239,"color":"#0000"},{"offset":0.332,"color":"#0000"},{"offset":0.332,"color":"#000"},{"offset":0.382,"color":"#000"},{"offset":0.382,"color":"#0000"},{"offset":0.475,"color":"#0000"},{"offset":0.475,"color":"#000"},{"offset":0.525,"color":"#000"},{"offset":0.525,"color":"#0000"},{"offset":0.618,"color":"#0000"},{"offset":0.618,"color":"#000"},{"offset":0.668,"color":"#000"},{"offset":0.668,"color":"#0000"},{"offset":0.761,"color":"#0000"},{"offset":0.761,"color":"#000"},{"offset":0.811,"color":"#000"},{"offset":0.811,"color":"#0000"},{"offset":0.904,"color":"#0000"},{"offset":0.904,"color":"#000"},{"offset":0.954,"color":"#000"},{"offset":0.954,"color":"#0000"}]}}},
        {"transform": [{"filter": "datum.rocha === 'Diorito'"}], "mark": {"type": "bar", "fill": {"gradient": "linear", "x1": 0, "y1": 1, "x2": 1.093, "y2": 0.115, "stops": [{"offset":0.046,"color":"#0000"},{"offset":0.046,"color":"#000"},{"offset":0.096,"color":"#000"},{"offset":0.096,"color":"#0000"},{"offset":0.189,"color":"#0000"},{"offset":0.189,"color":"#000"},{"offset":0.239,"color":"#000"},{"offset":0.239,"color":"#0000"},{"offset":0.332,"color":"#0000"},{"offset":0.332,"color":"#000"},{"offset":0.382,"color":"#000"},{"offset":0.382,"color":"#0000"},{"offset":0.475,"color":"#0000"},{"offset":0.475,"color":"#000"},{"offset":0.525,"color":"#000"},{"offset":0.525,"color":"#0000"},{"offset":0.618,"color":"#0000"},{"offset":0.618,"color":"#000"},{"offset":0.668,"color":"#000"},{"offset":0.668,"color":"#0000"},{"offset":0.761,"color":"#0000"},{"offset":0.761,"color":"#000"},{"offset":0.811,"color":"#000"},{"offset":0.811,"color":"#0000"},{"offset":0.904,"color":"#0000"},{"offset":0.904,"color":"#000"},{"offset":0.954,"color":"#000"},{"offset":0.954,"color":"#0000"}]}}},
        {"mark": {"type": "bar", "fill": "transparent", "stroke": "#111", "strokeWidth": 1.3}}
       ]},
      {"data": {"values": [{"norma": 0.4}]}, "mark": {"type": "rule", "stroke": "#333", "strokeDash": [3, 2], "strokeWidth": 1}, "encoding": {"y": {"field": "norma", "type": "quantitative", "scale": {"domain": [0, 0.5], "nice": false}, "axis": {"title": null, "values": [0, 0.1, 0.2, 0.3, 0.4, 0.5], "labelExpr": "replace(format(datum.value, '.1f'), '.', ',')"}}}}
     ]}
   ], "spacing": 22},
   {"width": 233, "height": 117,
    "title": {"text": "Resistência ao Impacto (cm)", "offset": 11, "dx": 30},
    "data": {"name": "resistencia"},
    "layer": [
     {"encoding": {
       "x": {"field": "rocha", "type": "nominal", "sort": null, "scale": {"domain": ["Rosa Encruzilhada","Bege Pérola","Coral","Sienito Piquirí","Vermelho Encruzilhada","Diorito"], "paddingInner": 0.26, "paddingOuter": 0.13, "align": 0.6}, "axis": {"title": null}},
       "y": {"field": "valor", "type": "quantitative", "scale": {"domain": [0, 80], "nice": false}, "axis": {"title": null, "values": [0, 10, 20, 30, 40, 50, 60, 70, 80], "format": "d"}},
       "y2": {"datum": 0}},
      "layer": [
       {"mark": {"type": "bar"}, "encoding": {"fill": {"field": "rocha", "type": "nominal", "legend": null, "scale": {"domain": ["Rosa Encruzilhada","Bege Pérola","Coral","Sienito Piquirí","Vermelho Encruzilhada","Diorito"], "range": ["#f4f4f4","#ababab","#5a5a5a","#ffffff","#ffffff","#ffffff"]}}}},
       {"transform": [{"filter": "datum.rocha === 'Sienito Piquirí'"}], "mark": {"type": "bar", "fill": {"gradient": "linear", "x1": 0, "y1": 0, "x2": 1, "y2": 0, "stops": [{"offset":0.23,"color":"#0000"},{"offset":0.23,"color":"#000"},{"offset":0.27,"color":"#000"},{"offset":0.27,"color":"#0000"},{"offset":0.48,"color":"#0000"},{"offset":0.48,"color":"#000"},{"offset":0.52,"color":"#000"},{"offset":0.52,"color":"#0000"},{"offset":0.73,"color":"#0000"},{"offset":0.73,"color":"#000"},{"offset":0.77,"color":"#000"},{"offset":0.77,"color":"#0000"}]}}},
       {"transform": [{"filter": "datum.rocha === 'Sienito Piquirí'"}], "mark": {"type": "bar", "fill": {"gradient": "linear", "x1": 0, "y1": 0, "x2": 0, "y2": 1, "stops": [{"offset":0.077,"color":"#0000"},{"offset":0.077,"color":"#444"},{"offset":0.09,"color":"#444"},{"offset":0.09,"color":"#0000"},{"offset":0.16,"color":"#0000"},{"offset":0.16,"color":"#444"},{"offset":0.173,"color":"#444"},{"offset":0.173,"color":"#0000"},{"offset":0.243,"color":"#0000"},{"offset":0.243,"color":"#444"},{"offset":0.257,"color":"#444"},{"offset":0.257,"color":"#0000"},{"offset":0.327,"color":"#0000"},{"offset":0.327,"color":"#444"},{"offset":0.34,"color":"#444"},{"offset":0.34,"color":"#0000"},{"offset":0.41,"color":"#0000"},{"offset":0.41,"color":"#444"},{"offset":0.423,"color":"#444"},{"offset":0.423,"color":"#0000"},{"offset":0.493,"color":"#0000"},{"offset":0.493,"color":"#444"},{"offset":0.507,"color":"#444"},{"offset":0.507,"color":"#0000"},{"offset":0.577,"color":"#0000"},{"offset":0.577,"color":"#444"},{"offset":0.59,"color":"#444"},{"offset":0.59,"color":"#0000"},{"offset":0.66,"color":"#0000"},{"offset":0.66,"color":"#444"},{"offset":0.673,"color":"#444"},{"offset":0.673,"color":"#0000"},{"offset":0.743,"color":"#0000"},{"offset":0.743,"color":"#444"},{"offset":0.757,"color":"#444"},{"offset":0.757,"color":"#0000"},{"offset":0.827,"color":"#0000"},{"offset":0.827,"color":"#444"},{"offset":0.84,"color":"#444"},{"offset":0.84,"color":"#0000"},{"offset":0.91,"color":"#0000"},{"offset":0.91,"color":"#444"},{"offset":0.923,"color":"#444"},{"offset":0.923,"color":"#0000"}]}}},
       {"transform": [{"filter": "datum.rocha === 'Vermelho Encruzilhada'"}], "mark": {"type": "bar", "fill": {"gradient": "linear", "x1": 0, "y1": 0, "x2": 1, "y2": 0, "stops": [{"offset":0.309,"color":"#0000"},{"offset":0.309,"color":"#000"},{"offset":0.357,"color":"#000"},{"offset":0.357,"color":"#0000"},{"offset":0.643,"color":"#0000"},{"offset":0.643,"color":"#000"},{"offset":0.691,"color":"#000"},{"offset":0.691,"color":"#0000"}]}}},
       {"transform": [{"filter": "datum.rocha === 'Vermelho Encruzilhada'"}], "mark": {"type": "bar", "fill": {"gradient": "linear", "x1": 0, "y1": 0, "x2": 0, "y2": 1, "stops": [{"offset":0.119,"color":"#0000"},{"offset":0.119,"color":"#000"},{"offset":0.131,"color":"#000"},{"offset":0.131,"color":"#0000"},{"offset":0.244,"color":"#0000"},{"offset":0.244,"color":"#000"},{"offset":0.256,"color":"#000"},{"offset":0.256,"color":"#0000"},{"offset":0.369,"color":"#0000"},{"offset":0.369,"color":"#000"},{"offset":0.381,"color":"#000"},{"offset":0.381,"color":"#0000"},{"offset":0.494,"color":"#0000"},{"offset":0.494,"color":"#000"},{"offset":0.506,"color":"#000"},{"offset":0.506,"color":"#0000"},{"offset":0.619,"color":"#0000"},{"offset":0.619,"color":"#000"},{"offset":0.631,"color":"#000"},{"offset":0.631,"color":"#0000"},{"offset":0.744,"color":"#0000"},{"offset":0.744,"color":"#000"},{"offset":0.756,"color":"#000"},{"offset":0.756,"color":"#0000"},{"offset":0.869,"color":"#0000"},{"offset":0.869,"color":"#000"},{"offset":0.881,"color":"#000"},{"offset":0.881,"color":"#0000"}]}}},
       {"transform": [{"filter": "datum.rocha === 'Diorito'"}], "mark": {"type": "bar", "fill": {"gradient": "linear", "x1": 0, "y1": 0, "x2": 0.527, "y2": 1.207, "stops": [{"offset":0.027,"color":"#0000"},{"offset":0.027,"color":"#000"},{"offset":0.056,"color":"#000"},{"offset":0.056,"color":"#0000"},{"offset":0.11,"color":"#0000"},{"offset":0.11,"color":"#000"},{"offset":0.14,"color":"#000"},{"offset":0.14,"color":"#0000"},{"offset":0.194,"color":"#0000"},{"offset":0.194,"color":"#000"},{"offset":0.223,"color":"#000"},{"offset":0.223,"color":"#0000"},{"offset":0.277,"color":"#0000"},{"offset":0.277,"color":"#000"},{"offset":0.306,"color":"#000"},{"offset":0.306,"color":"#0000"},{"offset":0.36,"color":"#0000"},{"offset":0.36,"color":"#000"},{"offset":0.39,"color":"#000"},{"offset":0.39,"color":"#0000"},{"offset":0.444,"color":"#0000"},{"offset":0.444,"color":"#000"},{"offset":0.473,"color":"#000"},{"offset":0.473,"color":"#0000"},{"offset":0.527,"color":"#0000"},{"offset":0.527,"color":"#000"},{"offset":0.556,"color":"#000"},{"offset":0.556,"color":"#0000"},{"offset":0.61,"color":"#0000"},{"offset":0.61,"color":"#000"},{"offset":0.64,"color":"#000"},{"offset":0.64,"color":"#0000"},{"offset":0.694,"color":"#0000"},{"offset":0.694,"color":"#000"},{"offset":0.723,"color":"#000"},{"offset":0.723,"color":"#0000"},{"offset":0.777,"color":"#0000"},{"offset":0.777,"color":"#000"},{"offset":0.806,"color":"#000"},{"offset":0.806,"color":"#0000"},{"offset":0.86,"color":"#0000"},{"offset":0.86,"color":"#000"},{"offset":0.89,"color":"#000"},{"offset":0.89,"color":"#0000"},{"offset":0.944,"color":"#0000"},{"offset":0.944,"color":"#000"},{"offset":0.973,"color":"#000"},{"offset":0.973,"color":"#0000"}]}}},
       {"transform": [{"filter": "datum.rocha === 'Diorito'"}], "mark": {"type": "bar", "fill": {"gradient": "linear", "x1": 0, "y1": 1, "x2": 0.527, "y2": -0.207, "stops": [{"offset":0.027,"color":"#0000"},{"offset":0.027,"color":"#000"},{"offset":0.056,"color":"#000"},{"offset":0.056,"color":"#0000"},{"offset":0.11,"color":"#0000"},{"offset":0.11,"color":"#000"},{"offset":0.14,"color":"#000"},{"offset":0.14,"color":"#0000"},{"offset":0.194,"color":"#0000"},{"offset":0.194,"color":"#000"},{"offset":0.223,"color":"#000"},{"offset":0.223,"color":"#0000"},{"offset":0.277,"color":"#0000"},{"offset":0.277,"color":"#000"},{"offset":0.306,"color":"#000"},{"offset":0.306,"color":"#0000"},{"offset":0.36,"color":"#0000"},{"offset":0.36,"color":"#000"},{"offset":0.39,"color":"#000"},{"offset":0.39,"color":"#0000"},{"offset":0.444,"color":"#0000"},{"offset":0.444,"color":"#000"},{"offset":0.473,"color":"#000"},{"offset":0.473,"color":"#0000"},{"offset":0.527,"color":"#0000"},{"offset":0.527,"color":"#000"},{"offset":0.556,"color":"#000"},{"offset":0.556,"color":"#0000"},{"offset":0.61,"color":"#0000"},{"offset":0.61,"color":"#000"},{"offset":0.64,"color":"#000"},{"offset":0.64,"color":"#0000"},{"offset":0.694,"color":"#0000"},{"offset":0.694,"color":"#000"},{"offset":0.723,"color":"#000"},{"offset":0.723,"color":"#0000"},{"offset":0.777,"color":"#0000"},{"offset":0.777,"color":"#000"},{"offset":0.806,"color":"#000"},{"offset":0.806,"color":"#0000"},{"offset":0.86,"color":"#0000"},{"offset":0.86,"color":"#000"},{"offset":0.89,"color":"#000"},{"offset":0.89,"color":"#0000"},{"offset":0.944,"color":"#0000"},{"offset":0.944,"color":"#000"},{"offset":0.973,"color":"#000"},{"offset":0.973,"color":"#0000"}]}}},
       {"mark": {"type": "bar", "fill": "transparent", "stroke": "#111", "strokeWidth": 1.3}}
      ]},
     {"data": {"values": [{"norma": 40}]}, "mark": {"type": "rule", "stroke": "#333", "strokeDash": [3, 2], "strokeWidth": 1}, "encoding": {"y": {"field": "norma", "type": "quantitative", "scale": {"domain": [0, 80], "nice": false}, "axis": {"title": null, "values": [0, 10, 20, 30, 40, 50, 60, 70, 80], "format": "d"}}}}
    ]}
  ], "spacing": 85}
 ], "spacing": 23},
 {"width": 472, "height": 109,
  "title": {"text": "Simbologia", "offset": 7, "dx": 10},
  "data": {"name": "legenda"},
  "encoding": {
   "x": {"field": "coluna", "type": "ordinal", "scale": {"type": "point", "padding": 0.111}, "axis": null},
   "y": {"field": "linha", "type": "ordinal", "scale": {"type": "point", "padding": 0.612}, "axis": null}},
  "layer": [
   {"transform": [{"filter": "datum.linha === 0 && datum.coluna < 3"}], "mark": {"type": "point", "shape": "M-1,-0.83H1V0.83H-1Z", "size": 324, "filled": true, "opacity": 1, "stroke": "#111", "strokeWidth": 1}, "encoding": {"fill": {"field": "item", "type": "nominal", "legend": null, "scale": {"domain": ["Rosa Encruzilhada","Bege Pérola","Coral","Sienito Piquirí","Vermelho Encruzilhada","Diorito"], "range": ["#f4f4f4","#ababab","#5a5a5a","#ffffff","#ffffff","#ffffff"]}}}},
   {"transform": [{"filter": "datum.linha === 1"}], "mark": {"type": "point", "shape": "square", "size": 225, "filled": true, "opacity": 1, "fill": "#fff", "strokeWidth": 0}},
   {"transform": [{"filter": "datum.item === 'Sienito Piquirí'"}], "mark": {"type": "point", "shape": "square", "size": 225, "filled": true, "opacity": 1, "strokeWidth": 0, "fill": {"gradient": "linear", "x1": 0, "y1": 0, "x2": 1, "y2": 0, "stops": [{"offset":0.46,"color":"#0000"},{"offset":0.46,"color":"#000"},{"offset":0.54,"color":"#000"},{"offset":0.54,"color":"#0000"}]}}},
   {"transform": [{"filter": "datum.item === 'Sienito Piquirí'"}], "mark": {"type": "point", "shape": "square", "size": 225, "filled": true, "opacity": 1, "strokeWidth": 0, "fill": {"gradient": "linear", "x1": 0, "y1": 0, "x2": 0, "y2": 1, "stops": [{"offset":0.3,"color":"#0000"},{"offset":0.3,"color":"#444"},{"offset":0.37,"color":"#444"},{"offset":0.37,"color":"#0000"},{"offset":0.63,"color":"#0000"},{"offset":0.63,"color":"#444"},{"offset":0.7,"color":"#444"},{"offset":0.7,"color":"#0000"}]}}},
   {"transform": [{"filter": "datum.item === 'Vermelho Encruzilhada'"}], "mark": {"type": "point", "shape": "square", "size": 225, "filled": true, "opacity": 1, "strokeWidth": 0, "fill": {"gradient": "linear", "x1": 0, "y1": 0, "x2": 1, "y2": 0, "stops": [{"offset":0.46,"color":"#0000"},{"offset":0.46,"color":"#000"},{"offset":0.54,"color":"#000"},{"offset":0.54,"color":"#0000"}]}}},
   {"transform": [{"filter": "datum.item === 'Vermelho Encruzilhada'"}], "mark": {"type": "point", "shape": "square", "size": 225, "filled": true, "opacity": 1, "strokeWidth": 0, "fill": {"gradient": "linear", "x1": 0, "y1": 0, "x2": 0, "y2": 1, "stops": [{"offset":0.46,"color":"#0000"},{"offset":0.46,"color":"#000"},{"offset":0.54,"color":"#000"},{"offset":0.54,"color":"#0000"}]}}},
   {"transform": [{"filter": "datum.item === 'Diorito'"}], "mark": {"type": "point", "shape": "square", "size": 225, "filled": true, "opacity": 1, "strokeWidth": 0, "fill": {"gradient": "linear", "x1": 0, "y1": 0, "x2": 1, "y2": 1, "stops": [{"offset":0.081,"color":"#0000"},{"offset":0.081,"color":"#000"},{"offset":0.169,"color":"#000"},{"offset":0.169,"color":"#0000"},{"offset":0.331,"color":"#0000"},{"offset":0.331,"color":"#000"},{"offset":0.419,"color":"#000"},{"offset":0.419,"color":"#0000"},{"offset":0.581,"color":"#0000"},{"offset":0.581,"color":"#000"},{"offset":0.669,"color":"#000"},{"offset":0.669,"color":"#0000"},{"offset":0.831,"color":"#0000"},{"offset":0.831,"color":"#000"},{"offset":0.919,"color":"#000"},{"offset":0.919,"color":"#0000"}]}}},
   {"transform": [{"filter": "datum.item === 'Diorito'"}], "mark": {"type": "point", "shape": "square", "size": 225, "filled": true, "opacity": 1, "strokeWidth": 0, "fill": {"gradient": "linear", "x1": 0, "y1": 1, "x2": 1, "y2": 0, "stops": [{"offset":0.081,"color":"#0000"},{"offset":0.081,"color":"#000"},{"offset":0.169,"color":"#000"},{"offset":0.169,"color":"#0000"},{"offset":0.331,"color":"#0000"},{"offset":0.331,"color":"#000"},{"offset":0.419,"color":"#000"},{"offset":0.419,"color":"#0000"},{"offset":0.581,"color":"#0000"},{"offset":0.581,"color":"#000"},{"offset":0.669,"color":"#000"},{"offset":0.669,"color":"#0000"},{"offset":0.831,"color":"#0000"},{"offset":0.831,"color":"#000"},{"offset":0.919,"color":"#000"},{"offset":0.919,"color":"#0000"}]}}},
   {"transform": [{"filter": "datum.linha === 1"}], "mark": {"type": "point", "shape": "square", "size": 225, "filled": false, "opacity": 1, "stroke": "#111", "strokeWidth": 1}},
   {"transform": [{"filter": "datum.coluna === 3"}], "mark": {"type": "point", "shape": "M-1,0H1", "size": 2209, "filled": false, "opacity": 1, "stroke": "#333", "strokeWidth": 1, "strokeDash": [2, 1]}},
   {"transform": [{"filter": "datum.linha === 0 && datum.coluna < 2"}], "mark": {"type": "text", "align": "center", "baseline": "middle", "dx": 60, "dy": -2, "lineBreak": " ", "lineHeight": 15, "fontSize": 14}, "encoding": {"text": {"field": "item"}}},
   {"transform": [{"filter": "datum.item === 'Vermelho Encruzilhada'"}], "mark": {"type": "text", "align": "center", "baseline": "middle", "dx": 60, "dy": 0, "lineBreak": " ", "lineHeight": 15, "fontSize": 14}, "encoding": {"text": {"field": "item"}}},
   {"transform": [{"filter": "datum.item === 'Coral'"}], "mark": {"type": "text", "align": "left", "baseline": "middle", "dx": 20, "dy": 1, "fontSize": 14}, "encoding": {"text": {"field": "item"}}},
   {"transform": [{"filter": "datum.linha === 1 && datum.coluna !== 1"}], "mark": {"type": "text", "align": "left", "baseline": "middle", "dx": 20, "dy": 12, "fontSize": 14}, "encoding": {"text": {"field": "item"}}},
   {"transform": [{"filter": "datum.coluna === 3"}], "mark": {"type": "text", "align": "left", "baseline": "top", "dx": -35, "dy": 7, "lineBreak": " ", "lineHeight": 21, "fontSize": 14}, "encoding": {"text": {"field": "item"}}}
  ]}
],
"spacing": 9
}
